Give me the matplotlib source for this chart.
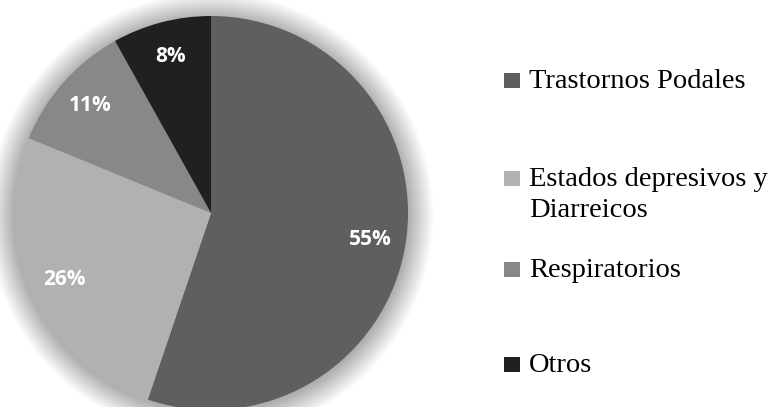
import matplotlib
matplotlib.use("Agg")
import matplotlib.pyplot as plt
import matplotlib.patches as ptch

# data
labels = ['Trastornos Podales', 'Estados depresivos y\nDiarreicos', 'Respiratorios', 'Otros']
values = [55.2, 26.0, 10.7, 8.1]
colors = ['#5f5f5f', '#b1b1b1', '#888888', '#202020']

W, H = 776, 407
fig = plt.figure(figsize=(W / 100, H / 100), dpi=100)
fig.patch.set_facecolor('white')

# pie axes: center (211, 213) px from top, radius 197 px
cx, cy, r = 211, H - 213, 197
span = 1.25
ax = fig.add_axes([(cx - r * span) / W, (cy - r * span) / H, 2 * r * span / W, 2 * r * span / H])
ax.set_xlim(-span, span)
ax.set_ylim(-span, span)
ax.axis('off')

# soft shadow round the pie
n = 40
for i in range(n):
    rad = 1.0 + 0.13 * (n - i) / n
    ax.add_patch(ptch.Circle((0.0, -0.01), rad, color='black', alpha=0.008, lw=0, zorder=0))

wedges, texts, autotexts = ax.pie(values, colors=colors, startangle=90, counterclock=False,
                                  autopct='%.0f%%', pctdistance=0.82, radius=1.0,
                                  wedgeprops=dict(linewidth=0),
                                  textprops=dict(color='white', fontsize=15, fontweight='bold',
                                                 family='Open Sans'))
for w in wedges:
    w.set_zorder(2)
for t in autotexts:
    t.set_zorder(3)
ax.set_xlim(-span, span)
ax.set_ylim(-span, span)

# legend, drawn by hand in pixel positions
sq_x = 504
txt_x = 529
baselines = [88, 186, 277, 372]
fs = 20.5
for lab, col, b in zip(labels, colors, baselines):
    fig.add_artist(ptch.Rectangle((sq_x / W, (H - b) / H), 16 / W, 15 / H,
                                  transform=fig.transFigure, facecolor=col, lw=0))
    first, *rest = lab.split('\n')
    fig.text(txt_x / W, (H - b) / H, first, fontsize=fs, family='Liberation Serif',
             color='black', va='baseline', ha='left')
    for k, line in enumerate(rest):
        fig.text(txt_x / W, (H - b - 31 * (k + 1)) / H, line, fontsize=fs,
                 family='Liberation Serif', color='black', va='baseline', ha='left')

fig.savefig('out.png', dpi=100, facecolor='white')
